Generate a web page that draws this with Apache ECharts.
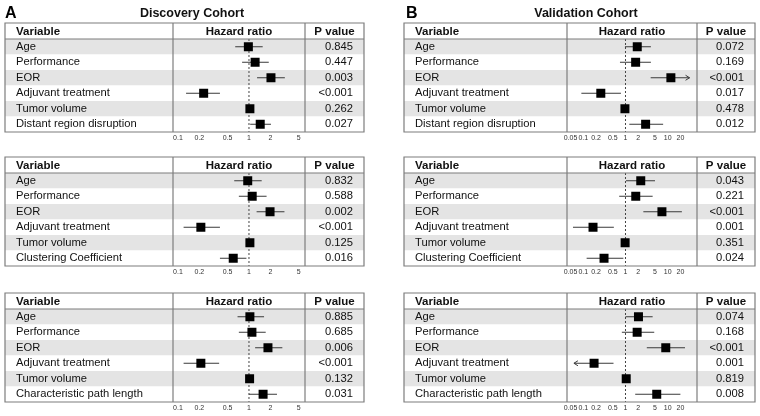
<!DOCTYPE html>
<html><head><meta charset="utf-8">
<script src="https://cdn.jsdelivr.net/npm/echarts@6/dist/echarts.min.js"></script>
<style>html,body{margin:0;padding:0;background:#fff}#c{width:760px;height:416px}</style>
</head><body><div id="c"></div>
<script>
// ---------- data ----------
const varsDistant = ['Age','Performance','EOR','Adjuvant treatment','Tumor volume','Distant region disruption'];
const varsCluster = ['Age','Performance','EOR','Adjuvant treatment','Tumor volume','Clustering Coefficient'];
const varsPath    = ['Age','Performance','EOR','Adjuvant treatment','Tumor volume','Characteristic path length'];

const ticksA = [0.1, 0.2, 0.5, 1, 2, 5];
const ticksB = [0.05, 0.1, 0.2, 0.5, 1, 2, 5, 10, 20];

// Discovery cohort (A)
const hrA1 = [0.98, 1.22, 2.04, 0.23, 1.03, 1.44];
const loA1 = [0.64, 0.80, 1.30, 0.13, 0.97, 1.04];
const hiA1 = [1.56, 1.90, 3.20, 0.39, 1.08, 2.04];
const pA1  = ['0.845','0.447','0.003','<0.001','0.262','0.027'];

const hrA2 = [0.96, 1.11, 1.98, 0.21, 1.03, 0.60];
const loA2 = [0.62, 0.72, 1.28, 0.12, 0.98, 0.39];
const hiA2 = [1.51, 1.77, 3.16, 0.39, 1.08, 0.92];
const pA2  = ['0.832','0.588','0.002','<0.001','0.125','0.016'];

const hrA3 = [1.03, 1.10, 1.85, 0.21, 1.02, 1.58];
const loA3 = [0.69, 0.72, 1.22, 0.12, 0.97, 1.00];
const hiA3 = [1.63, 1.72, 2.95, 0.38, 1.07, 2.48];
const pA3  = ['0.885','0.685','0.006','<0.001','0.132','0.031'];

// Validation cohort (B)
const hrB1 = [1.90, 1.74, 11.9, 0.26, 0.97, 3.0];
const loB1 = [0.97, 0.74, 3.95, 0.09, 0.90, 1.23];
const hiB1 = [4.0, 4.0, 33, 0.78, 1.05, 7.8];
const pB1  = ['0.072','0.169','<0.001','0.017','0.478','0.012'];
const truncB1 = [0, 0, 1, 0, 0, 0];   // 1 = CI truncated right (arrow), -1 = left

const hrB2 = [2.3, 1.75, 7.3, 0.17, 0.98, 0.31];
const loB2 = [1.03, 0.71, 2.65, 0.057, 0.90, 0.12];
const hiB2 = [5.0, 4.4, 21.7, 0.53, 1.07, 0.89];
const pB2  = ['0.043','0.221','<0.001','0.001','0.351','0.024'];

const hrB3 = [2.03, 1.89, 9.0, 0.18, 1.04, 5.5];
const loB3 = [1.0, 0.82, 3.2, 0.06, 0.96, 1.7];
const hiB3 = [4.4, 4.8, 25.7, 0.52, 1.12, 20];
const pB3  = ['0.074','0.168','<0.001','0.001','0.819','0.008'];
const truncB3 = [0, 0, 0, -1, 0, 0];

const noTrunc = [0, 0, 0, 0, 0, 0];
const refValue = [1];

// ---------- layout ----------
const FONT = '"Liberation Sans", Arial, sans-serif';
const colA = {left: 5, div1: 173, div2: 305, right: 364, min: 0.0851, max: 6.15, ticks: ticksA};
const colB = {left: 404, div1: 567, div2: 697, right: 755, min: 0.0411, max: 49.5, ticks: ticksB};
const tops = [23, 157, 293];
const headerH = 16, rowH = 15.5;

const panels = [
  {col: colA, top: tops[0], vars: varsDistant, hr: hrA1, lo: loA1, hi: hiA1, p: pA1, tr: noTrunc},
  {col: colA, top: tops[1], vars: varsCluster, hr: hrA2, lo: loA2, hi: hiA2, p: pA2, tr: noTrunc},
  {col: colA, top: tops[2], vars: varsPath,    hr: hrA3, lo: loA3, hi: hiA3, p: pA3, tr: noTrunc},
  {col: colB, top: tops[0], vars: varsDistant, hr: hrB1, lo: loB1, hi: hiB1, p: pB1, tr: truncB1},
  {col: colB, top: tops[1], vars: varsCluster, hr: hrB2, lo: loB2, hi: hiB2, p: pB2, tr: noTrunc},
  {col: colB, top: tops[2], vars: varsPath,    hr: hrB3, lo: loB3, hi: hiB3, p: pB3, tr: truncB3}
];

const grid = [], xAxis = [], yAxis = [], series = [], graphic = [];
const border = '#7d7d7d';

function ciRender(params, api) {
  const y = api.value(3);
  const pLo = api.coord([api.value(0), y]);
  const pHi = api.coord([api.value(1), y]);
  const pC = api.coord([api.value(2), y]);
  const tr = api.value(4);
  const lineStyle = {stroke: '#3a3a3a', lineWidth: 1, fill: null};
  const ch = [{type: 'line', shape: {x1: pLo[0], y1: pLo[1], x2: pHi[0], y2: pHi[1]}, style: lineStyle}];
  if (tr === 1) {
    ch.push({type: 'polyline', shape: {points: [[pHi[0] - 4, pHi[1] - 2.5], [pHi[0], pHi[1]], [pHi[0] - 4, pHi[1] + 2.5]]}, style: lineStyle});
  } else if (tr === -1) {
    ch.push({type: 'polyline', shape: {points: [[pLo[0] + 4, pLo[1] - 2.5], [pLo[0], pLo[1]], [pLo[0] + 4, pLo[1] + 2.5]]}, style: lineStyle});
  }
  const s = 9;
  ch.push({type: 'rect', shape: {x: pC[0] - s / 2, y: pC[1] - s / 2, width: s, height: s}, style: {fill: '#000'}});
  return {type: 'group', children: ch};
}
function refRender(params, api) {
  const p = api.coord([api.value(0), 0]);
  const cs = params.coordSys;
  return {type: 'line', shape: {x1: p[0], y1: cs.y, x2: p[0], y2: cs.y + cs.height},
    style: {stroke: '#444', lineWidth: 1, lineDash: [2, 2]}};
}

panels.forEach((pn, i) => {
  const c = pn.col;
  const rowsTop = pn.top + headerH;
  const rowsH = 6 * rowH;
  // table grid (full width, for bands + labels)
  grid.push({left: c.left, top: rowsTop, width: c.right - c.left, height: rowsH, show: false});
  // hazard ratio grid
  grid.push({left: c.div1, top: rowsTop, width: c.div2 - c.div1, height: rowsH, show: false});
  xAxis.push({type: 'value', gridIndex: 2 * i, show: false});
  xAxis.push({type: 'log', logBase: 10, gridIndex: 2 * i + 1, min: c.min, max: c.max,
    axisLine: {show: false}, axisTick: {show: false}, splitLine: {show: false},
    axisLabel: {customValues: c.ticks, fontSize: 7, color: '#333', margin: 3, fontFamily: FONT,
      formatter: v => String(+(+v).toPrecision(6))}});
  yAxis.push({type: 'category', gridIndex: 2 * i, data: pn.vars, inverse: true,
    axisLine: {show: false}, axisTick: {show: false}, splitLine: {show: false},
    splitArea: {show: true, areaStyle: {color: ['#e4e4e4', '#ffffff']}},
    axisLabel: {inside: true, margin: 11, fontSize: 11.2, color: '#111', fontFamily: FONT}});
  yAxis.push({type: 'category', gridIndex: 2 * i, position: 'right', data: pn.p, inverse: true,
    axisLine: {show: false}, axisTick: {show: false}, splitLine: {show: false},
    axisLabel: {inside: true, margin: 11, fontSize: 11.2, color: '#111', fontFamily: FONT}});
  yAxis.push({type: 'category', gridIndex: 2 * i + 1, data: pn.vars, inverse: true, show: false});

  series.push({type: 'custom', xAxisIndex: 2 * i + 1, yAxisIndex: 3 * i + 2, z: 3, silent: true,
    renderItem: refRender, encode: {x: 0, y: 1}, data: refValue.map(v => [v, 0])});
  series.push({type: 'custom', xAxisIndex: 2 * i + 1, yAxisIndex: 3 * i + 2, z: 4, silent: true,
    renderItem: ciRender, encode: {x: [0, 1, 2], y: 3},
    data: pn.hr.map((h, k) => [pn.lo[k], pn.hi[k], h, k, pn.tr[k]])});

  // table frame
  const bottom = rowsTop + rowsH;
  graphic.push({type: 'rect', z: 100, shape: {x: c.left, y: pn.top, width: c.right - c.left, height: bottom - pn.top},
    style: {fill: null, stroke: border, lineWidth: 1.2}});
  graphic.push({type: 'line', z: 100, shape: {x1: c.left, y1: rowsTop, x2: c.right, y2: rowsTop}, style: {stroke: border, lineWidth: 1.2}});
  graphic.push({type: 'line', z: 100, shape: {x1: c.div1, y1: pn.top, x2: c.div1, y2: bottom}, style: {stroke: border, lineWidth: 1.2}});
  graphic.push({type: 'line', z: 100, shape: {x1: c.div2, y1: pn.top, x2: c.div2, y2: bottom}, style: {stroke: border, lineWidth: 1.2}});
  const hy = pn.top + headerH / 2 + 0.5;
  const hs = {fontSize: 11.5, fontWeight: 'bold', fill: '#111', fontFamily: FONT, textVerticalAlign: 'middle'};
  graphic.push({type: 'text', z: 100, x: c.left + 11, y: hy, style: Object.assign({text: 'Variable', textAlign: 'left'}, hs)});
  graphic.push({type: 'text', z: 100, x: (c.div1 + c.div2) / 2, y: hy, style: Object.assign({text: 'Hazard ratio', textAlign: 'center'}, hs)});
  graphic.push({type: 'text', z: 100, x: (c.div2 + c.right) / 2, y: hy, style: Object.assign({text: 'P value', textAlign: 'center'}, hs)});
});

// panel letters and titles
graphic.push({type: 'text', x: 5, y: 14, style: {text: 'A', fontSize: 16, fontWeight: 'bold', fill: '#000', fontFamily: FONT, textVerticalAlign: 'middle'}});
graphic.push({type: 'text', x: 406, y: 14, style: {text: 'B', fontSize: 16, fontWeight: 'bold', fill: '#000', fontFamily: FONT, textVerticalAlign: 'middle'}});
graphic.push({type: 'text', x: 192, y: 14, style: {text: 'Discovery Cohort', textAlign: 'center', textVerticalAlign: 'middle', fontSize: 12.5, fontWeight: 'bold', fill: '#111', fontFamily: FONT}});
graphic.push({type: 'text', x: 586, y: 14, style: {text: 'Validation Cohort', textAlign: 'center', textVerticalAlign: 'middle', fontSize: 12.5, fontWeight: 'bold', fill: '#111', fontFamily: FONT}});

const chart = echarts.init(document.getElementById('c'), null, {renderer: 'canvas'});
chart.setOption({animation: false, backgroundColor: '#fff', grid, xAxis, yAxis, series, graphic});
</script></body></html>
